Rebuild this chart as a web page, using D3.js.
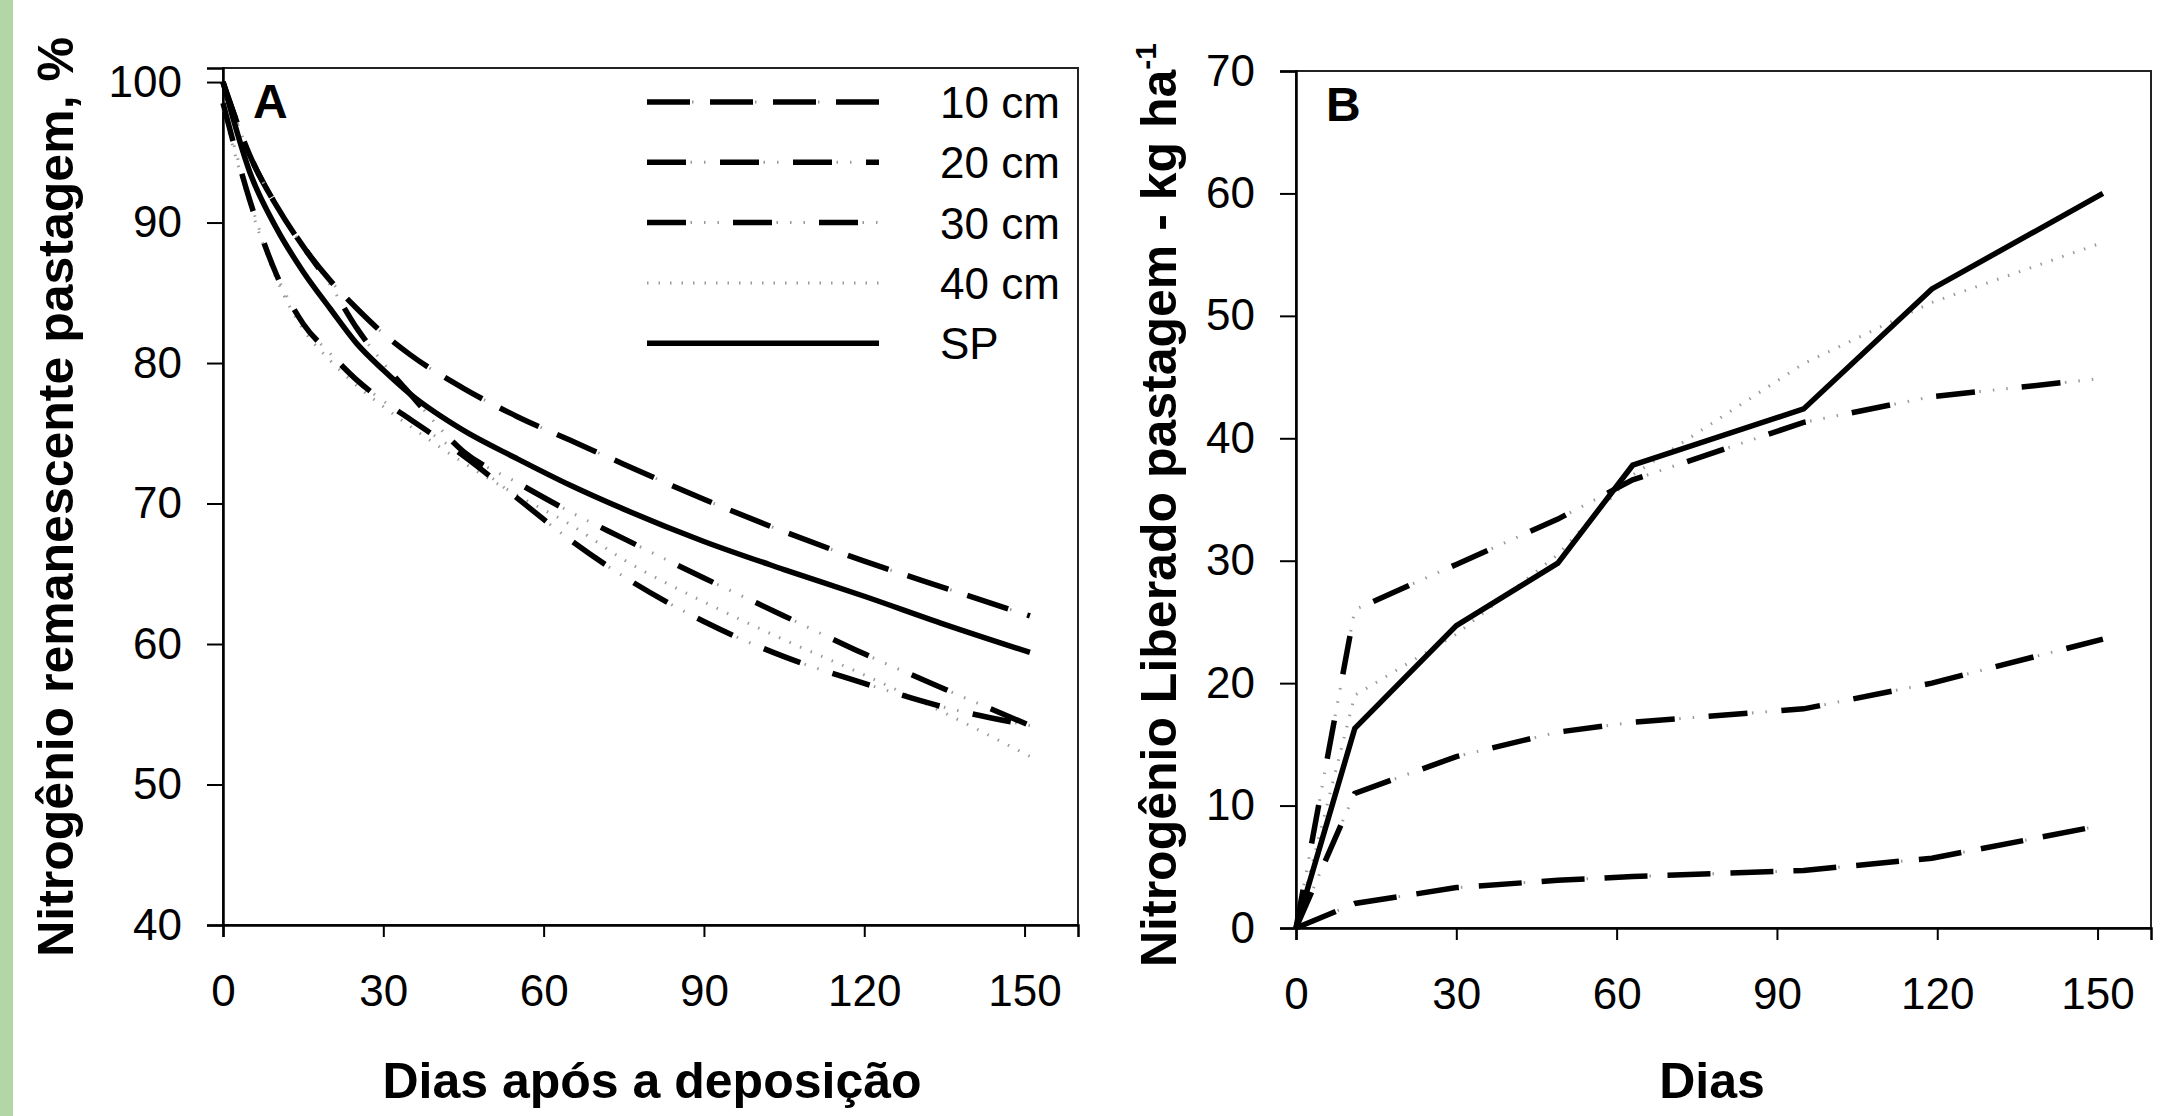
<!DOCTYPE html>
<html>
<head>
<meta charset="utf-8">
<script src="https://cdn.jsdelivr.net/npm/d3@7"></script>
<style>
  body { margin: 0; background: #ffffff; }
  svg { display: block; font-family: "Liberation Sans", Arial, sans-serif; }
</style>
</head>
<body>
<svg id="chart" width="2174" height="1116"></svg>
<script>
// ---- data ----
var diasA = [0, 5, 10, 15, 20, 25, 30, 35, 45, 55, 65, 75, 90, 105, 120, 135, 151];
var remA10 = [100, 94.8, 91.2, 88.3, 85.9, 83.9, 82.1, 80.6, 78.2, 76.2, 74.5, 72.8, 70.3, 68.0, 65.9, 64.0, 62.0];
var remA20 = [98.5, 91.6, 86.3, 82.8, 80.7, 78.8, 77.3, 76.0, 73.4, 70.4, 67.4, 64.8, 61.6, 59.1, 57.2, 55.5, 54.2];
var remA30 = [100, 94.8, 91.2, 88.3, 85.6, 82.5, 80.0, 77.8, 73.7, 71.5, 69.4, 67.5, 64.7, 62.0, 59.3, 56.8, 54.2];
var remA40 = [98, 91.3, 86.0, 82.4, 80.2, 78.4, 76.9, 75.5, 72.9, 70.6, 68.5, 66.0, 63.0, 60.3, 57.8, 55.1, 52.0];
var remASP = [100, 93.6, 89.6, 86.5, 83.9, 81.4, 79.5, 77.8, 75.2, 73.2, 71.3, 69.6, 67.3, 65.3, 63.4, 61.4, 59.4];

var diasB = [0, 11, 30, 49, 63, 95, 119, 151];
var libB10 = [0, 2.0, 3.3, 3.9, 4.2, 4.7, 5.7, 8.4];
var libB20 = [0, 11.0, 14.0, 16.0, 16.8, 17.9, 20.0, 23.6];
var libB30 = [0, 26.0, 29.7, 33.4, 36.6, 41.3, 43.4, 44.9];
var libB40 = [0, 19.0, 24.0, 30.5, 37.0, 46.1, 51.1, 56.0];
var libBSP = [0, 16.3, 24.7, 29.8, 37.8, 42.4, 52.2, 60.0];

var seriesNames = ["10 cm", "20 cm", "30 cm", "40 cm", "SP"];
var xTicks = [0, 30, 60, 90, 120, 150];
var yTicksA = [40, 50, 60, 70, 80, 90, 100];
var yTicksB = [0, 10, 20, 30, 40, 50, 60, 70];

// ---- line styles ----
var lineStyles = {
  "10 cm": { dash: "43,20", dots: "0,45,1.5,16.5" },
  "20 cm": { dash: "39,34", dots: "0,43.5,1.5,12,1.5,14.5" },
  "30 cm": { dash: "39,47", dots: "0,43.5,1.5,12,1.5,12,1.5,14" },
  "40 cm": { dash: null, dots: "1.5,10" },
  "SP":    { dash: "none", dots: null }
};

var svg = d3.select("#chart");
var font = "\"Liberation Sans\", Arial, sans-serif";

// green strip on the left edge
svg.append("rect").attr("x", 0).attr("y", 0).attr("width", 13).attr("height", 1116).attr("fill", "#b2d6a5");

function drawSeries(g, pts, name, lineGen) {
  var st = lineStyles[name];
  if (st.dash !== null) {
    g.append("path")
      .attr("d", lineGen(pts))
      .attr("fill", "none")
      .attr("stroke", "#000")
      .attr("stroke-width", 5.5)
      .attr("stroke-dasharray", st.dash);
  }
  if (st.dots) {
    g.append("path")
      .attr("d", lineGen(pts))
      .attr("fill", "none")
      .attr("stroke", "#9a9a9a")
      .attr("stroke-width", 3)
      .attr("stroke-dasharray", st.dots);
  }
}

function drawPanel(cfg) {
  var x = d3.scaleLinear().domain([0, 160]).range([cfg.left, cfg.right]);
  var y = d3.scaleLinear().domain(cfg.yDomain).range([cfg.bottom, cfg.top]);
  var g = svg.append("g");

  // plot frame
  g.append("rect")
    .attr("x", cfg.left).attr("y", cfg.top)
    .attr("width", cfg.right - cfg.left).attr("height", cfg.bottom - cfg.top)
    .attr("fill", "none").attr("stroke", "#222").attr("stroke-width", 2);

  var yAxis = g.append("g")
    .attr("transform", "translate(" + cfg.left + ",0)")
    .call(d3.axisLeft(y).tickValues(cfg.yTicks).tickSize(16).tickPadding(25).tickFormat(d3.format("d")));
  var xAxis = g.append("g")
    .attr("transform", "translate(0," + cfg.bottom + ")")
    .call(d3.axisBottom(x).tickValues(xTicks).tickSize(12).tickPadding(38).tickFormat(d3.format("d")));

  [yAxis, xAxis].forEach(function(ax) {
    ax.select(".domain").attr("stroke", "#000").attr("stroke-width", 2.5);
    ax.selectAll(".tick line").attr("stroke", "#000").attr("stroke-width", 2);
    ax.selectAll(".tick text").attr("fill", "#000").attr("font-size", 44).attr("font-family", font);
  });

  var lineGen = d3.line()
    .x(function(d) { return x(d[0]); })
    .y(function(d) { return y(d[1]); })
    .curve(cfg.curve);

  var lines = g.append("g");
  var order = ["40 cm", "20 cm", "30 cm", "10 cm", "SP"];
  order.forEach(function(name) {
    var vals = cfg.values[name];
    var pts = cfg.days.map(function(d, i) { return [d, vals[i]]; });
    drawSeries(lines, pts, name, lineGen);
  });

  // panel letter
  g.append("text")
    .attr("x", cfg.left + 30).attr("y", cfg.top + 50)
    .attr("font-size", 48).attr("font-weight", "bold").attr("font-family", font)
    .text(cfg.letter);

  // axis titles
  g.append("text")
    .attr("x", cfg.xTitleX).attr("y", 1098)
    .attr("text-anchor", "middle")
    .attr("font-size", 50).attr("font-weight", "bold").attr("font-family", font)
    .text(cfg.xTitle);

  var yt = g.append("text")
    .attr("transform", "translate(" + cfg.yTitleX + "," + cfg.yTitleY + ") rotate(-90)")
    .attr("text-anchor", "middle")
    .attr("font-size", 50).attr("font-weight", "bold").attr("font-family", font);
  yt.append("tspan").text(cfg.yTitle);
  if (cfg.yTitleSup) {
    yt.append("tspan").attr("dy", -20).attr("font-size", 30).text(cfg.yTitleSup);
  }

  return { x: x, y: y, g: g };
}

var valuesA = { "10 cm": remA10, "20 cm": remA20, "30 cm": remA30, "40 cm": remA40, "SP": remASP };
var valuesB = { "10 cm": libB10, "20 cm": libB20, "30 cm": libB30, "40 cm": libB40, "SP": libBSP };

var panelA = drawPanel({
  left: 223, right: 1078, top: 68, bottom: 925,
  yDomain: [40, 101], yTicks: yTicksA,
  days: diasA, values: valuesA, curve: d3.curveMonotoneX,
  letter: "A",
  xTitle: "Dias após a deposição", xTitleX: 652,
  yTitle: "Nitrogênio remanescente pastagem, %", yTitleX: 73, yTitleY: 497
});

var panelB = drawPanel({
  left: 1296, right: 2151, top: 71, bottom: 928,
  yDomain: [0, 70], yTicks: yTicksB,
  days: diasB, values: valuesB, curve: d3.curveLinear,
  letter: "B",
  xTitle: "Dias", xTitleX: 1712,
  yTitle: "Nitrogênio Liberado pastagem - kg ha", yTitleSup: "-1", yTitleX: 1176, yTitleY: 505
});

// legend inside panel A
var legend = svg.append("g").attr("transform", "translate(647,102)");
var legendItems = legend.selectAll("g.item").data(seriesNames).enter().append("g")
  .attr("class", "item")
  .attr("transform", function(d, i) { return "translate(0," + (i * 60.3) + ")"; });
legendItems.each(function(name) {
  var item = d3.select(this);
  drawSeries(item, [[0, 0], [232, 0]], name, d3.line());
});
legendItems.append("text")
  .attr("x", 293).attr("y", 16)
  .attr("font-size", 44).attr("font-family", font)
  .text(function(d) { return d; });
</script>
</body>
</html>
